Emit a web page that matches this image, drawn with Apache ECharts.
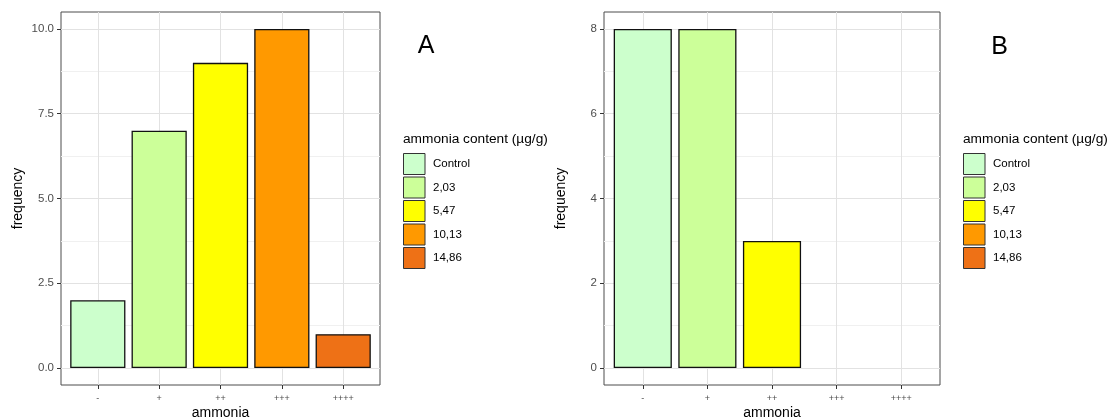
<!DOCTYPE html>
<html>
<head>
<meta charset="utf-8">
<script src="https://cdn.jsdelivr.net/npm/echarts@6/dist/echarts.min.js"></script>
<style>
  html, body { margin: 0; padding: 0; background: #fff; }
  #chart { width: 1110px; height: 418px; }
</style>
</head>
<body>
<div id="chart"></div>
<script>
// Ammonia score categories and the ammonia content each one corresponds to
const categories = ['-', '+', '++', '+++', '++++'];
const levels = ['Control', '2,03', '5,47', '10,13', '14,86'];

// Frequencies per category for the two panels
const countsA = [2, 7, 9, 10, 1];
const countsB = [8, 8, 3, 0, 0];

// Y tick labels for each panel
const yTicksA = [0, 2.5, 5, 7.5, 10];
const yTicksB = [0, 2, 4, 6, 8];

// Fill colours for the ammonia content levels
const levelColors = ['#CCFFCC', '#CCFF99', '#FFFF00', '#FF9900', '#EE7116'];

const FONT = 'Liberation Sans, Arial, Helvetica, sans-serif';
const GRID_MAJOR = '#e2e2e2';
const GRID_MINOR = '#f0f0f0';

// Panel rectangles (outer panel, with 0.6-category padding either side)
const panels = [
  { left: 61, top: 12, width: 319, height: 373, counts: countsA, ticks: yTicksA, digits: 1 },
  { left: 604, top: 12, width: 336, height: 373, counts: countsB, ticks: yTicksB, digits: 0 }
];

const grids = [], xAxes = [], yAxes = [], series = [];

panels.forEach((p, k) => {
  const top = p.ticks[p.ticks.length - 1];
  const pad = top * 0.05;
  const yMin = -pad, yMax = top + pad;
  const step = p.ticks[1] - p.ticks[0];
  const band = p.width / (categories.length + 0.2);

  // Outer panel: border, horizontal grid, y axis
  grids.push({
    left: p.left, top: p.top, width: p.width, height: p.height,
    outerBoundsMode: 'none',
    show: true, borderColor: '#4d4d4d', borderWidth: 1, backgroundColor: '#fff'
  });
  xAxes.push({ gridIndex: 2 * k, type: 'value', min: 0, max: 1, show: false });
  yAxes.push({
    gridIndex: 2 * k, type: 'value', min: yMin, max: yMax,
    minInterval: step, maxInterval: step,
    name: 'frequency', nameLocation: 'middle', nameGap: 36, nameMoveOverlap: false,
    nameTextStyle: { fontFamily: FONT, fontSize: 14, color: '#000' },
    axisLine: { show: false },
    axisTick: { show: true, length: 4, customValues: p.ticks, lineStyle: { color: '#333', width: 1 } },
    axisLabel: {
      customValues: p.ticks, margin: 7, fontFamily: FONT, fontSize: 11.5, color: '#4d4d4d',
      formatter: v => p.ticks.includes(v) ? v.toFixed(p.digits) : ''
    },
    splitLine: { show: true, lineStyle: { color: GRID_MAJOR, width: 1 } },
    minorTick: { show: false, splitNumber: 2 },
    minorSplitLine: { show: true, lineStyle: { color: GRID_MINOR, width: 1 } }
  });

  // Inner grid spanning first to last category centre: bars and x axis
  grids.push({
    left: p.left + band * 0.6, top: p.top,
    width: band * (categories.length - 1), height: p.height,
    outerBoundsMode: 'none'
  });
  xAxes.push({
    gridIndex: 2 * k + 1, type: 'category', data: categories, boundaryGap: false,
    name: 'ammonia', nameLocation: 'middle', nameGap: 21, nameMoveOverlap: false,
    nameTextStyle: { fontFamily: FONT, fontSize: 14, color: '#000' },
    axisLine: { show: false, onZero: false },
    axisTick: { show: true, length: 4, interval: 0, lineStyle: { color: '#333', width: 1 } },
    axisLabel: { interval: 0, margin: 9.5, fontFamily: FONT, fontSize: 9, color: '#4d4d4d' },
    splitLine: { show: true, interval: 0, lineStyle: { color: GRID_MAJOR, width: 1 } }
  });
  yAxes.push({ gridIndex: 2 * k + 1, type: 'value', min: yMin, max: yMax, show: false });

  levels.forEach((lv, i) => {
    series.push({
      name: lv, type: 'bar', xAxisIndex: 2 * k + 1, yAxisIndex: 2 * k + 1,
      stack: 'panel' + k, clip: false, barWidth: band * 0.9,
      itemStyle: { color: levelColors[i], borderColor: '#111', borderWidth: 1.3 },
      emphasis: { disabled: true },
      data: categories.map((c, j) => (j === i && p.counts[j] > 0) ? p.counts[j] : '-')
    });
  });
});

const legendBase = {
  data: levels, orient: 'vertical', icon: 'rect', selectedMode: false,
  padding: 0, itemWidth: 21.5, itemHeight: 21, itemGap: 1.5, top: 153,
  itemStyle: { borderColor: '#333', borderWidth: 1 },
  textStyle: { fontFamily: FONT, fontSize: 11.5, color: '#000', padding: [0, 0, 0, 3] }
};

const option = {
  animation: false,
  backgroundColor: '#fff',
  grid: grids,
  xAxis: xAxes,
  yAxis: yAxes,
  legend: [
    Object.assign({}, legendBase, { left: 403 }),
    Object.assign({}, legendBase, { left: 963 })
  ],
  graphic: [
    { type: 'text', x: 403, y: 139.5, style: { text: 'ammonia content (µg/g)', font: '13.7px ' + FONT, fill: '#000', textVerticalAlign: 'middle' } },
    { type: 'text', x: 963, y: 139.5, style: { text: 'ammonia content (µg/g)', font: '13.7px ' + FONT, fill: '#000', textVerticalAlign: 'middle' } },
    { type: 'text', x: 426, y: 46, style: { text: 'A', font: '25px ' + FONT, fill: '#000', textAlign: 'center', textVerticalAlign: 'middle' } },
    { type: 'text', x: 999.5, y: 47.5, style: { text: 'B', font: '25px ' + FONT, fill: '#000', textAlign: 'center', textVerticalAlign: 'middle' } }
  ],
  series: series
};

const chart = echarts.init(document.getElementById('chart'), null, { renderer: 'canvas' });
chart.setOption(option);
</script>
</body>
</html>
